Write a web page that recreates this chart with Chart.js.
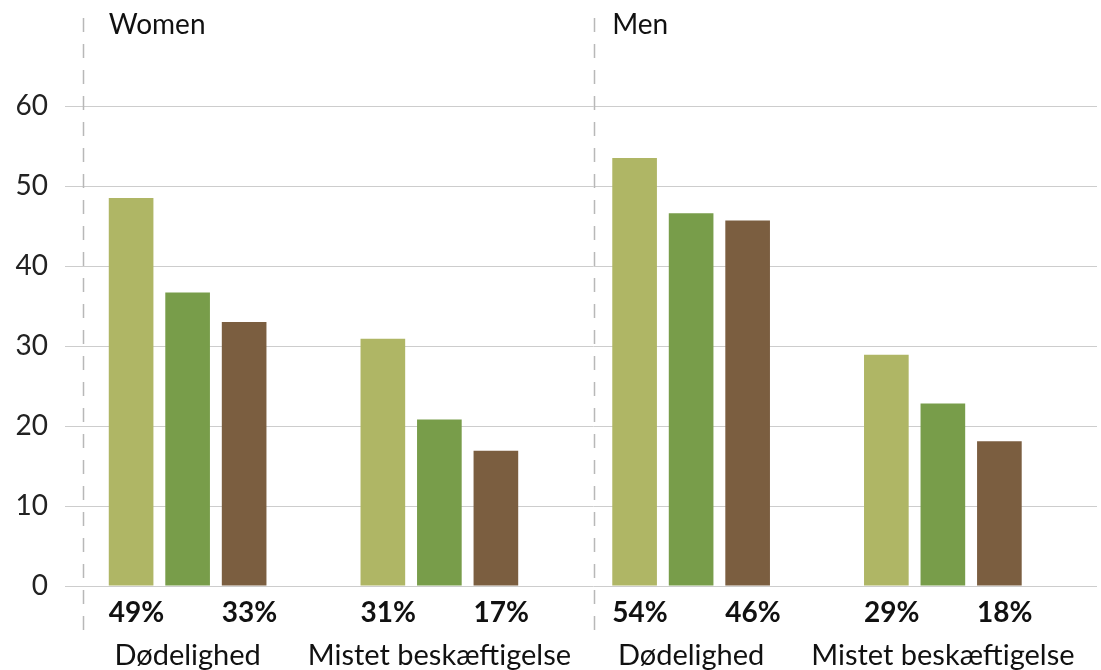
<!DOCTYPE html>
<html>
<head>
<meta charset="utf-8">
<script src="https://cdn.jsdelivr.net/npm/chart.js@4.4.0/dist/chart.umd.min.js"></script>
<style>
  html, body { margin: 0; padding: 0; background: #fff; }
  #wrap { width: 1101px; height: 670px; }
</style>
</head>
<body>
<div id="wrap"><canvas id="chart"></canvas></div>
<script>
const panels = ['Women', 'Men'];
const categories = ['Dødelighed', 'Mistet beskæftigelse', 'Dødelighed', 'Mistet beskæftigelse'];
const seriesLight = [48.5, 30.9, 53.5, 28.9];
const seriesGreen = [36.7, 20.8, 46.6, 22.8];
const seriesBrown = [33.0, 16.9, 45.7, 18.1];
const yTicks = [0, 10, 20, 30, 40, 50, 60];

const colors = ['#afb665', '#789d4a', '#7b5e40'];
const FONT = 'Lato, "Open Sans", sans-serif';

// panel titles, dashed dividers, category names and the % labels under the bars
const annotate = {
    id: 'annotate',
    beforeDatasetsDraw(chart) {
        const { ctx, chartArea, scales: { x } } = chart;
        ctx.save();
        ctx.strokeStyle = '#b8b8b8';
        ctx.lineWidth = 1.5;
        ctx.setLineDash([14, 12]);
        [chartArea.left - 7, x.getPixelForValue(1.5)].forEach(px => {
            ctx.beginPath();
            ctx.moveTo(Math.round(px) + 0.5, 18);
            ctx.lineTo(Math.round(px) + 0.5, 632);
            ctx.stroke();
        });
        ctx.restore();
    },
    afterDatasetsDraw(chart) {
        const { ctx, chartArea } = chart;
        ctx.save();
        ctx.fillStyle = '#111';
        ctx.textBaseline = 'middle';

        const first = chart.getDatasetMeta(0).data;
        ctx.textAlign = 'left';
        ctx.font = '28px ' + FONT;
        panels.forEach((p, i) => {
            const el = first[i * 2];
            ctx.fillText(p, el.x - el.width / 2, 25);
        });

        ctx.font = 'bold 28px ' + FONT;
        [0, 2].forEach(di => {
            const meta = chart.getDatasetMeta(di);
            const vals = chart.data.datasets[di].data;
            meta.data.forEach((el, i) => {
                ctx.fillText(Math.round(vals[i]) + '%', el.x - el.width / 2, chartArea.bottom + 27);
            });
        });

        ctx.textAlign = 'center';
        ctx.font = '29px ' + FONT;
        chart.getDatasetMeta(1).data.forEach((el, i) => {
            ctx.fillText(categories[i], el.x, chartArea.bottom + 70);
        });
        ctx.restore();
    }
};

new Chart(document.getElementById('chart'), {
    type: 'bar',
    data: {
        labels: categories,
        datasets: [
            { label: 'a', data: seriesLight, backgroundColor: colors[0] },
            { label: 'b', data: seriesGreen, backgroundColor: colors[1] },
            { label: 'c', data: seriesBrown, backgroundColor: colors[2] },
            { label: 'spacer', data: [], backgroundColor: 'transparent' }
        ]
    },
    options: {
        responsive: true,
        maintainAspectRatio: false,
        animation: false,
        events: [],
        layout: { padding: { top: 106, right: 4, left: 0, bottom: 0 } },
        datasets: { bar: { categoryPercentage: 0.898, barPercentage: 0.79 } },
        plugins: { legend: { display: false }, tooltip: { enabled: false } },
        scales: {
            x: {
                grid: { display: false },
                border: { display: false },
                ticks: { display: false },
                afterFit: s => { s.height = 84; s.paddingLeft = 0; s.paddingRight = 0; }
            },
            y: {
                min: 0, max: 60,
                afterBuildTicks: s => { s.ticks = yTicks.map(v => ({ value: v })); },
                grid: { color: '#cdcdcd', lineWidth: 1, tickLength: 25, drawTicks: true },
                border: { display: false },
                ticks: { color: '#222', font: { family: FONT, size: 28 }, padding: 17 },
                afterFit: s => { s.width = 90; }
            }
        }
    },
    plugins: [annotate]
});
</script>
</body>
</html>
